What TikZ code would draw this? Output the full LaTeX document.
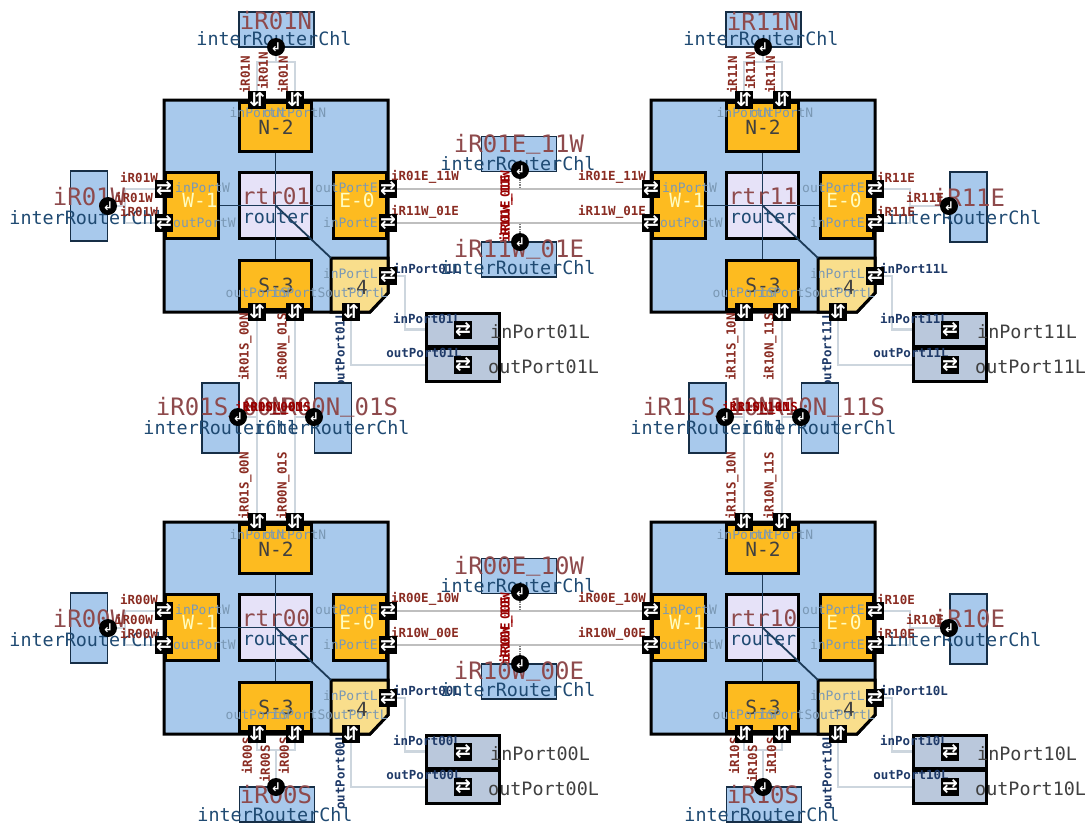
\documentclass[tikz,border=0pt]{standalone}
\usepackage{fontspec}
\usepackage{tikz}
\newfontfamily\monofam{DejaVu Sans Mono}
\newfontfamily\arrowfam{DejaVu Sans}
\newcommand{\pxfont}[1]{\monofam\fontsize{#1}{#1}\selectfont}
\newcommand{\highbar}{\raisebox{0.18em}{\_}}
\definecolor{routerblue}{HTML}{A8C9EC}
\definecolor{blockorange}{HTML}{FDBB20}
\definecolor{localyellow}{HTML}{F9DE8C}
\definecolor{centerlilac}{HTML}{E6E2F8}
\definecolor{localgrey}{HTML}{BAC8DC}
\definecolor{wiregrey}{HTML}{CDD6DE}
\definecolor{busblue}{HTML}{1C3A58}
\definecolor{namered}{HTML}{8E4A4C}
\definecolor{wirered}{HTML}{8A2C22}
\definecolor{typeblue}{HTML}{1F4A72}
\definecolor{portblue}{HTML}{7A98B4}
\definecolor{navy}{HTML}{1F3A68}
\pgfdeclarelayer{front}
\pgfsetlayers{main,front}
\begin{document}
\begin{tikzpicture}[x=1pt, y=-1pt, every node/.style={inner sep=0pt},
  blockh/.style={draw=black, line width=3pt, fill=blockorange, minimum width=72pt, minimum height=49pt},
  blockv/.style={draw=black, line width=3pt, fill=blockorange, minimum width=53pt, minimum height=66pt},
  centerbox/.style={draw=black, line width=3pt, fill=centerlilac, minimum width=72pt, minimum height=66pt},
  localbox/.style={draw=black, line width=3pt, fill=localgrey, minimum width=73pt, minimum height=33pt},
  chlh/.style={draw=busblue!80!black, line width=1.5pt, fill=routerblue, minimum width=75pt, minimum height=35pt},
  chlv/.style={draw=busblue!80!black, line width=1.5pt, fill=routerblue, minimum width=37pt, minimum height=70pt},
  portbox/.style={fill=black, text=white, minimum width=18pt, minimum height=18pt, font=\arrowfam\bfseries\fontsize{19}{19}\selectfont},
  chldot/.style={circle, fill=black, text=white, minimum size=18pt, font=\arrowfam\bfseries\fontsize{12}{12}\selectfont},
  wire/.style={draw=wiregrey, line width=2.5pt},
  bus/.style={draw=busblue, line width=1.8pt},
  blockname/.style={font=\pxfont{19.5}, text=black!75},
  palename/.style={font=\pxfont{19.5}, text=yellow!25},
  bigname/.style={font=\pxfont{24}, text=namered},
  typename/.style={font=\pxfont{18.4}, text=typeblue},
  localname/.style={font=\pxfont{18.4}, text=black!75},
  portname/.style={font=\pxfont{13}, text=portblue},
  wirename/.style={font=\pxfont{12.5}\bfseries, text=wirered},
  localport/.style={font=\pxfont{12.5}\bfseries, text=navy}]
\useasboundingbox (0,0) rectangle (1089,823);
% routers
\foreach \ox/\oy/\rn in {0/0/01, 487/0/11, 0/422/00, 487/422/10} {
\begin{scope}[shift={(\ox,\oy)}]
\draw[line width=3pt, fill=routerblue] (164,100) -- (388,100) -- (388,293) -- (370,312) -- (164,312) -- cycle;
\node[blockh] (n\rn) at (275.5,126.5) {};
\node[blockh] (s\rn) at (275.5,285) {};
\node[blockv] (w\rn) at (191.5,205.5) {};
\node[blockv] (e\rn) at (359.5,205.5) {};
\node[centerbox] (c\rn) at (275.5,205.5) {};
\draw[line width=3pt, fill=localyellow] (331,258) -- (388,258) -- (388,293) -- (370,312) -- (331,312) -- cycle;
\coordinate (l\rn) at (331,258);
\draw[bus] (n\rn) -- (s\rn);
\draw[bus] (w\rn) -- (e\rn);
\draw[bus] (c\rn.center) -- (l\rn);
\node[localbox] (lbi\rn) at (463,329.5) {};
\node[localbox] (lbo\rn) at (463,365) {};
\begin{pgfonlayer}{front}
\node[portbox] (pn1\rn) at (257,100) {⇵};
\node[portbox] (pn2\rn) at (295,100) {⇵};
\node[portbox] (ps1\rn) at (257,312) {⇵};
\node[portbox] (ps2\rn) at (295,312) {⇵};
\node[portbox] (pw1\rn) at (164,189) {⇄};
\node[portbox] (pw2\rn) at (164,223) {⇄};
\node[portbox] (pe1\rn) at (388,189) {⇄};
\node[portbox] (pe2\rn) at (388,223) {⇄};
\node[portbox] (ple\rn) at (388,276) {⇄};
\node[portbox] (pls\rn) at (351,312) {⇵};
\node[portbox] (pli\rn) at (463,329.5) {⇄};
\node[portbox] (plo\rn) at (463,365) {⇄};
\end{pgfonlayer}
\coordinate (lj\rn) at (405,276);
\draw[wire] (ple\rn) -- (lj\rn) -- (lj\rn |- lbi\rn) -- (lbi\rn);
\draw[wire] (pls\rn) -- (pls\rn |- lbo\rn) -- (lbo\rn);
\node[blockname] (nt\rn) at (276,127) {N-2};
\node[blockname] (st\rn) at (276,285) {S-3};
\node[palename] (wt\rn) at (200,200) {W-1};
\node[palename] (et\rn) at (357,200) {E-0};
\node[blockname] (lt\rn) at (356,287) {-4};
\node[font=\pxfont{22.7}, text=namered] (rt\rn) at (276,196) {rtr\rn};
\node[typename] (ty\rn) at (276,217) {router};
\node[portname] (inn\rn) at (257,113) {inPortN};
\node[portname] (otn\rn) at (295,113) {outPortN};
\node[portname] (ins\rn) at (298,293) {inPortS};
\node[portname] (ots\rn) at (257,293) {outPortS};
\node[portname, anchor=west] (inw\rn) at (175,188) {inPortW};
\node[portname, anchor=west] (otw\rn) at (173,223) {outPortW};
\node[portname, anchor=east] (ote\rn) at (378,188) {outPortE};
\node[portname, anchor=east] (ine\rn) at (378,223) {inPortE};
\node[portname, anchor=east] (inl\rn) at (378,274) {inPortL};
\node[portname, anchor=east] (otl\rn) at (388,293) {outPortL};
\node[localport, anchor=west] (lp1\rn) at (393,268) {inPort\rn L};
\node[localport, rotate=90] (lp2\rn) at (340,350) {outPort\rn L};
\node[localport] (lp3\rn) at (427,318) {inPort\rn L};
\node[localport] (lp4\rn) at (424,353) {outPort\rn L};
\node[localname, anchor=west] (ln1\rn) at (490,332) {inPort\rn L};
\node[localname, anchor=west] (ln2\rn) at (488,367) {outPort\rn L};
\end{scope}
}
% north channels
\foreach \ox/\rn in {0/01, 487/11} {
\begin{scope}[shift={(\ox,0)}]
\node[chlh] (chn\rn) at (276.5,29.5) {};
\begin{pgfonlayer}{front}
\node[chldot] (dn\rn) at (276,47) {↲};
\end{pgfonlayer}
\coordinate (jn\rn) at (276,62);
\draw[wire] (pn1\rn) -- (pn1\rn |- jn\rn) -- (pn2\rn |- jn\rn) -- (pn2\rn);
\draw[wire] (jn\rn) -- (dn\rn);
\node[bigname] (cnn\rn) at (276,21) {iR\rn N};
\node[typename] (cnt\rn) at (274,39) {interRouterChl};
\node[wirename, rotate=90] (wn1\rn) at (245,75) {iR\rn N};
\node[wirename, rotate=90] (wn2\rn) at (263,71) {iR\rn N};
\node[wirename, rotate=90] (wn3\rn) at (283,75) {iR\rn N};
\end{scope}
}
% south channels
\foreach \ox/\rn in {0/00, 487/10} {
\begin{scope}[shift={(\ox,422)}]
\node[chlh] (chs\rn) at (277,382.5) {};
\begin{pgfonlayer}{front}
\node[chldot] (ds\rn) at (276,365) {↲};
\end{pgfonlayer}
\coordinate (js\rn) at (276,328);
\draw[wire] (ps1\rn) -- (ps1\rn |- js\rn) -- (ps2\rn |- js\rn) -- (ps2\rn);
\draw[wire] (js\rn) -- (ds\rn);
\node[bigname] (csn\rn) at (276,373) {iR\rn S};
\node[typename] (cst\rn) at (275,392.5) {interRouterChl};
\node[wirename, rotate=90] (ws1\rn) at (247,334) {iR\rn S};
\node[wirename, rotate=90] (ws2\rn) at (265,342) {iR\rn S};
\node[wirename, rotate=90] (ws3\rn) at (284,334) {iR\rn S};
\end{scope}
}
% west channels
\foreach \oy/\rn in {0/01, 422/00} {
\begin{scope}[shift={(0,\oy)}]
\node[chlv] (chw\rn) at (89,206) {};
\begin{pgfonlayer}{front}
\node[chldot] (dw\rn) at (108,206) {↲};
\end{pgfonlayer}
\coordinate (jw\rn) at (125,206);
\draw[wire] (pw1\rn) -- (pw1\rn -| jw\rn) -- (pw2\rn -| jw\rn) -- (pw2\rn);
\draw[wire] (jw\rn) -- (dw\rn);
\node[bigname] (cwn\rn) at (89,197) {iR\rn W};
\node[typename] (cwt\rn) at (87,218) {interRouterChl};
\node[wirename] (ww1\rn) at (139,177) {iR\rn W};
\node[wirename] (ww2\rn) at (134,197) {iR\rn W};
\node[wirename] (ww3\rn) at (139,211) {iR\rn W};
\end{scope}
}
% east channels
\foreach \oy/\rn in {0/11, 422/10} {
\begin{scope}[shift={(487,\oy)}]
\node[chlv] (che\rn) at (481.5,207) {};
\begin{pgfonlayer}{front}
\node[chldot] (de\rn) at (462,206) {↲};
\end{pgfonlayer}
\coordinate (je\rn) at (423,206);
\draw[wire] (pe1\rn) -- (pe1\rn -| je\rn) -- (pe2\rn -| je\rn) -- (pe2\rn);
\draw[wire] (je\rn) -- (de\rn);
\node[bigname] (cen\rn) at (482,197) {iR\rn E};
\node[typename] (cet\rn) at (477,218) {interRouterChl};
\node[wirename] (we1\rn) at (409,177) {iR\rn E};
\node[wirename] (we2\rn) at (438,197) {iR\rn E};
\node[wirename] (we3\rn) at (409,211) {iR\rn E};
\end{scope}
}
% channels between left and right routers
\foreach \oy/\lnum/\rnum in {0/01/11, 422/00/10} {
\begin{scope}[shift={(0,\oy)}]
\node[chlh] (che\lnum) at (519,154) {};
\node[chlh] (chw\rnum) at (519,259.5) {};
\begin{pgfonlayer}{front}
\node[chldot] (de\lnum) at (520,170) {↲};
\node[chldot] (dw\rnum) at (520,242) {↲};
\end{pgfonlayer}
\draw[wire, draw=gray!50] (pe1\lnum) -- (pw1\rnum);
\draw[wire, draw=gray!50] (pe2\lnum) -- (pw2\rnum);
\draw[densely dotted, line width=1.5pt, draw=gray] (de\lnum) -- (pe1\lnum -| de\lnum);
\draw[densely dotted, line width=1.5pt, draw=gray] (dw\rnum) -- (pe2\lnum -| dw\rnum);
\node[bigname] (cln\lnum) at (519,144) {iR\lnum E\highbar\rnum W};
\node[typename] (clt\lnum) at (518,164) {interRouterChl};
\node[bigname] (crn\rnum) at (519,249) {iR\rnum W\highbar\lnum E};
\node[typename] (crt\rnum) at (518,268) {interRouterChl};
\node[wirename] (wl1\lnum) at (425,177) {iR\lnum E\_\rnum W};
\node[wirename] (wl2\lnum) at (425,212) {iR\rnum W\_\lnum E};
\node[wirename] (wr1\rnum) at (612,177) {iR\lnum E\_\rnum W};
\node[wirename] (wr2\rnum) at (612,212) {iR\rnum W\_\lnum E};
\node[wirename, rotate=90, text=red!60!black] (wv1\lnum) at (506,205) {iR\lnum E\_\rnum W};
\node[wirename, rotate=90, text=red!60!black] (wv2\rnum) at (506,209) {iR\rnum W\_\lnum E};
\end{scope}
}
% channels between upper and lower routers
\foreach \ox/\unum/\dnum in {0/01/00, 487/11/10} {
\begin{scope}[shift={(\ox,0)}]
\node[chlv] (chs\unum) at (220.5,418) {};
\node[chlv] (chn\dnum) at (333,418) {};
\begin{pgfonlayer}{front}
\node[chldot] (ds\unum) at (238,417) {↲};
\node[chldot] (dn\dnum) at (314,417) {↲};
\end{pgfonlayer}
\draw[wire] (ps1\unum) -- (pn1\dnum);
\draw[wire] (ps2\unum) -- (pn2\dnum);
\draw[wire] (ds\unum) -- (ds\unum -| ps1\unum);
\draw[wire] (dn\dnum) -- (dn\dnum -| ps2\unum);
\node[bigname] (cun\unum) at (221,407) {iR\unum S\highbar\dnum N};
\node[typename] (cut\unum) at (221,428) {interRouterChl};
\node[bigname] (cdn\dnum) at (333,407) {iR\dnum N\highbar\unum S};
\node[typename] (cdt\dnum) at (332,428) {interRouterChl};
\node[wirename, rotate=90] (wu1\unum) at (245,347) {iR\unum S\_\dnum N};
\node[wirename, rotate=90] (wu2\unum) at (283,347) {iR\dnum N\_\unum S};
\node[wirename, rotate=90] (wd1\dnum) at (245,486) {iR\unum S\_\dnum N};
\node[wirename, rotate=90] (wd2\dnum) at (283,486) {iR\dnum N\_\unum S};
\node[wirename, text=red!60!black] (wm1\unum) at (269,408) {iR\unum S\_\dnum N};
\node[wirename, text=red!60!black] (wm2\dnum) at (277,408) {iR\dnum N\_\unum S};
\end{scope}
}
\end{tikzpicture}
\end{document}
